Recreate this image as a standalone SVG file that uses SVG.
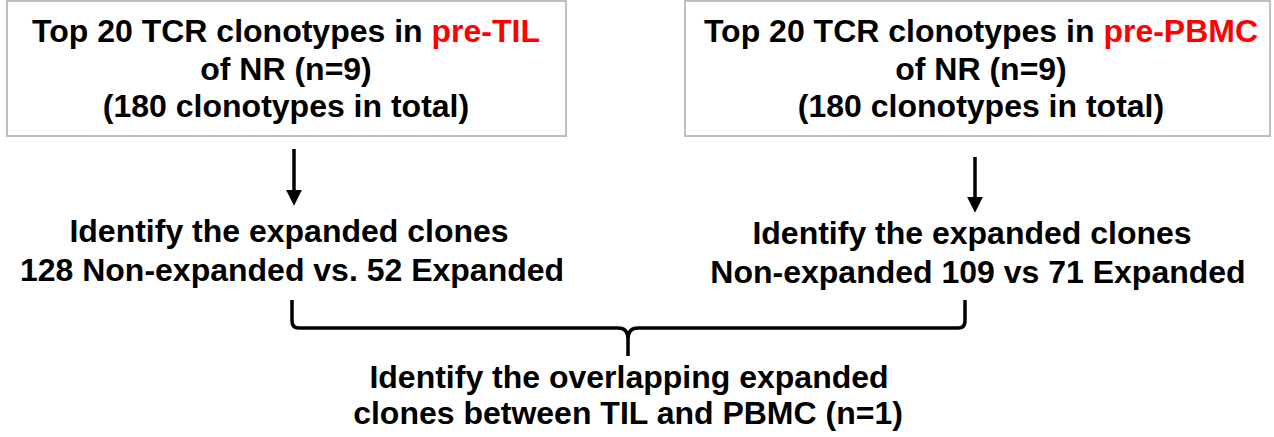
<svg xmlns="http://www.w3.org/2000/svg" width="1274" height="437" viewBox="0 0 1274 437">
<style>
.t{font-family:"Liberation Sans",Arial,sans-serif;font-weight:bold;font-size:32px;fill:#000;text-anchor:middle}
.red{fill:#ff0000}
.box{fill:#fff;stroke:#bfbfbf;stroke-width:2}
.ln{stroke:#000;stroke-width:3.5;fill:none}
</style>
<defs>
<marker id="ah" markerWidth="5" markerHeight="4.5" refX="0" refY="2.25" orient="auto" markerUnits="strokeWidth">
<path d="M0,0 L4.5,2.25 L0,4.5 Z" fill="#000"/>
</marker>
</defs>
<rect width="1274" height="437" fill="#fff"/>
<g id="box-til">
<rect class="box" x="7" y="1" width="559" height="135"/>
<text class="t" x="286" y="42">Top 20 TCR clonotypes in <tspan class="red">pre-TIL</tspan></text>
<text class="t" x="286" y="80">of NR (n=9)</text>
<text class="t" x="286" y="117">(180 clonotypes in total)</text>
</g>
<g id="box-pbmc">
<rect class="box" x="685" y="1" width="585" height="135"/>
<text class="t" x="981" y="42">Top 20 TCR clonotypes in <tspan class="red">pre-PBMC</tspan></text>
<text class="t" x="981" y="80">of NR (n=9)</text>
<text class="t" x="981" y="117">(180 clonotypes in total)</text>
</g>
<g id="expanded-til">
<text class="t" x="289" y="242">Identify the expanded clones</text>
<text class="t" x="292" y="281">128 Non-expanded vs. 52 Expanded</text>
</g>
<g id="expanded-pbmc">
<text class="t" x="972" y="244">Identify the expanded clones</text>
<text class="t" x="978" y="283">Non-expanded 109 vs 71 Expanded</text>
</g>
<g id="overlap">
<text class="t" x="629" y="388">Identify the overlapping expanded</text>
<text class="t" x="628" y="424">clones between TIL and PBMC (n=1)</text>
</g>
<g id="connectors">
<line class="ln" x1="294" y1="149" x2="294" y2="190" stroke-width="3.5" marker-end="url(#ah)"/>
<line class="ln" x1="975" y1="157" x2="975" y2="197" stroke-width="3.5" marker-end="url(#ah)"/>
<path class="ln" d="M292,300 V321 Q292,328 299,328 H618 Q628,328 628,339 V356 M628,339 Q628,328 638,328 H958 Q965,328 965,321 V300"/>
</g>
</svg>
